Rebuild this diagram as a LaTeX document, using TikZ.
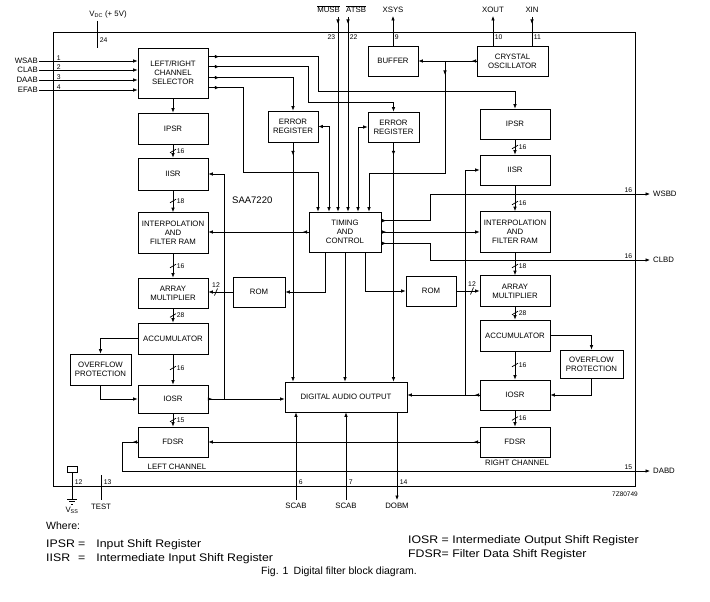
\documentclass[tikz,border=0pt]{standalone}
\usepackage{fontspec}
\setmainfont{Liberation Sans}
\newfontfamily\legfont[FakeStretch=1.12]{Liberation Sans}
\usetikzlibrary{arrows.meta,decorations.markings}
\newcommand\busv[3]{\draw[ln] (#1-3,#2+1.8) -- (#1+3,#2-1.8); \node[pn,anchor=west] at (#1+3,#2) {#3};}
\newcommand\bush[3]{\draw[ln] (#1-1.5,#2+3.5) -- (#1+1.5,#2-3.5); \node[pn,anchor=south] at (#1,#2-3.5) {#3};}
\begin{document}
\begin{tikzpicture}[x=1pt,y=-1pt,
  ln/.style={line width=0.7pt},
  >={Latex[length=4.5pt,width=3.6pt]},
  arr/.style={ln,->},
  ma/.style={postaction={decorate,decoration={markings,mark=at position #1 with {\arrow{>}}}}},
  blk/.style={draw,ln,align=center,inner sep=1pt,font=\fontsize{7.8}{8.8}\selectfont},
  pn/.style={inner sep=0.6pt,font=\fontsize{6.8}{7.5}\selectfont},
  lab/.style={inner sep=1pt,font=\fontsize{7.8}{9}\selectfont},
  leg/.style={inner sep=0pt,anchor=west,font=\legfont\fontsize{11}{12}\selectfont}]
\useasboundingbox (0,0) rectangle (710,602);

% chip outline
\draw[ln] (53,32) rectangle (635,486);

% ---------- blocks ----------
\node[blk,minimum width=70pt,minimum height=50pt] (sel) at (173,73) {LEFT/RIGHT\\CHANNEL\\SELECTOR};
\node[blk,minimum width=70pt,minimum height=31pt] (ipsrL) at (173,128.5) {IPSR};
\node[blk,minimum width=70pt,minimum height=32pt] (iisrL) at (173,174) {IISR};
\node[blk,minimum width=70pt,minimum height=41pt] (intL) at (173,233) {INTERPOLATION\\AND\\FILTER RAM};
\node[blk,minimum width=70pt,minimum height=30pt] (amL) at (173,293) {ARRAY\\MULTIPLIER};
\node[blk,minimum width=70pt,minimum height=31pt] (accL) at (173,338.5) {ACCUMULATOR};
\node[blk,minimum width=61pt,minimum height=31pt] (ovfL) at (100.5,369.5) {OVERFLOW\\PROTECTION};
\node[blk,minimum width=70pt,minimum height=28pt] (iosrL) at (173,399) {IOSR};
\node[blk,minimum width=70pt,minimum height=30pt] (fdsrL) at (173,442) {FDSR};

\node[blk,minimum width=70pt,minimum height=30pt] (ipsrR) at (515,124) {IPSR};
\node[blk,minimum width=70pt,minimum height=30pt] (iisrR) at (515,170) {IISR};
\node[blk,minimum width=70pt,minimum height=41pt] (intR) at (515,232) {INTERPOLATION\\AND\\FILTER RAM};
\node[blk,minimum width=70pt,minimum height=31pt] (amR) at (515,291) {ARRAY\\MULTIPLIER};
\node[blk,minimum width=70pt,minimum height=31pt] (accR) at (515,335.5) {ACCUMULATOR};
\node[blk,minimum width=63pt,minimum height=28pt] (ovfR) at (591.5,364) {OVERFLOW\\PROTECTION};
\node[blk,minimum width=70pt,minimum height=30pt] (iosrR) at (515,395) {IOSR};
\node[blk,minimum width=70pt,minimum height=30pt] (fdsrR) at (515,442) {FDSR};

\node[blk,minimum width=50pt,minimum height=31pt] (errL) at (293,126.5) {ERROR\\REGISTER};
\node[blk,minimum width=51pt,minimum height=30pt] (errR) at (393.5,127) {ERROR\\REGISTER};
\node[blk,minimum width=50pt,minimum height=30pt] (buf) at (393,61) {BUFFER};
\node[blk,minimum width=71pt,minimum height=30pt] (xtal) at (512.5,61) {CRYSTAL\\OSCILLATOR};
\node[blk,minimum width=72pt,minimum height=40pt] (tim) at (345,232) {TIMING\\AND\\CONTROL};
\node[blk,minimum width=52pt,minimum height=30pt] (romL) at (259,292) {ROM};
\node[blk,minimum width=50pt,minimum height=30pt] (romR) at (431,291) {ROM};
\node[blk,minimum width=122pt,minimum height=30pt] (dao) at (346,397) {DIGITAL AUDIO OUTPUT};

% ---------- terminals ----------
\coordinate (wsab) at (39,61);
\coordinate (clab) at (39,70);
\coordinate (daab) at (39,80);
\coordinate (efab) at (39,90);
\coordinate (vdc) at (97,21);
\coordinate (vdcb) at (97,48);
\coordinate (musb) at (338,17);
\coordinate (atsb) at (348,17);
\coordinate (xsys) at (393,16);
\coordinate (xout) at (493,16);
\coordinate (xin) at (532,17);
\coordinate (wsbd) at (650,194);
\coordinate (clbd) at (650,260);
\coordinate (dabd) at (650,471);
\coordinate (scab1) at (296,500);
\coordinate (scab2) at (346,500);
\coordinate (dobm) at (397,500);
\coordinate (cj) at (445,61);
\coordinate (jL) at (224,399);
\coordinate (jR) at (465,395);

\node[lab,anchor=east] (twsab) at (wsab) {WSAB};
\node[lab,anchor=east] (tclab) at (clab) {CLAB};
\node[lab,anchor=east] (tdaab) at (daab) {DAAB};
\node[lab,anchor=east] (tefab) at (efab) {EFAB};
\node[pn,anchor=south west] (p1) at (56,61) {1};
\node[pn,anchor=south west] (p2) at (56,70) {2};
\node[pn,anchor=south west] (p3) at (56,80) {3};
\node[pn,anchor=south west] (p4) at (56,90) {4};
\draw[arr] (wsab) -- (wsab -| sel.west);
\draw[arr] (clab) -- (clab -| sel.west);
\draw[arr] (daab) -- (daab -| sel.west);
\draw[arr] (efab) -- (efab -| sel.west);

\node[lab,anchor=south] (tvdc) at (108,19) {V\textsubscript{DC} (+ 5V)};
\draw[ln] (vdc) -- (vdcb);
\node[pn,anchor=west] (p24) at (99,40) {24};

\node[lab,anchor=south east] (tmusb) at (341,14) {$\overline{\hbox{MUSB}}$};
\node[lab,anchor=south west] (tatsb) at (345,14) {$\overline{\hbox{ATSB}}$};
\node[lab,anchor=south] (txsys) at (393,14) {XSYS};
\node[lab,anchor=south] (txout) at (493,14) {XOUT};
\node[lab,anchor=south] (txin) at (532,14) {XIN};
\node[pn,anchor=east] (p23) at (336,37) {23};
\node[pn,anchor=west] (p22) at (349,37) {22};
\node[pn,anchor=west] (p9) at (394,37) {9};
\node[pn,anchor=west] (p10) at (494,37) {10};
\node[pn,anchor=west] (p11) at (533,37) {11};

\node[lab,anchor=west] (twsbd) at (652,194) {WSBD};
\node[lab,anchor=west] (tclbd) at (652,260) {CLBD};
\node[lab,anchor=west] (tdabd) at (652,471) {DABD};
\node[pn,anchor=south east] (p16a) at (633,193) {16};
\node[pn,anchor=south east] (p16b) at (633,259) {16};
\node[pn,anchor=south east] (p15) at (633,470) {15};

% ---------- top connections ----------
\draw[arr] (buf.north) -- (xsys);
\draw[arr] ([xshift=-19.5pt]xtal.north) -- (xout);
\draw[ln,ma=7pt] (xin) -- ([xshift=19.5pt]xtal.north);
\draw[arr,ma=5pt] (xtal.west) -- (buf.east);
\draw[arr,ma=14pt] (cj) -- (445,173) -| ([xshift=24pt]tim.north);
\draw[arr,ma=7pt] (musb) -- ([xshift=-7pt]tim.north);
\draw[arr,ma=7pt] (atsb) -- ([xshift=3pt]tim.north);

% selector outputs
\draw[arr,ma=11pt] ([yshift=-9pt]sel.north east) -| (318,91) -| (ipsrR.north);
\draw[arr,ma=11pt] ([yshift=-19pt]sel.north east) -| (308,102) -| (errR.north);
\draw[arr,ma=11pt] ([yshift=-30pt]sel.north east) -| (errL.north);
\draw[arr,ma=11pt] ([yshift=-40pt]sel.north east) -| (243,172) -| ([xshift=-27pt]tim.north);

% error registers
\draw[ln,<->] (errL.east) -| ([xshift=-16pt]tim.north);
\draw[ln,<->] (errR.west) -| ([xshift=13pt]tim.north);
\draw[arr,ma=13pt] (errL.south) -- (errL.south |- dao.north);
\draw[arr,ma=13pt] (errR.south) -- (errR.south |- dao.north);

% timing and control
\draw[arr,ma=6pt] (tim.west) -- (intL.east |- tim.west);
\draw[arr,ma=5pt] ([yshift=-9pt]tim.north east) -| (430,194) -- (wsbd);
\draw[arr,ma=5pt] (tim.east) -- (intR.west |- tim.east);
\draw[arr,ma=5pt] ([yshift=9pt]tim.south east) -| (430,260) -- (clbd);
\draw[arr] ([xshift=-20pt]tim.south) |- (romL.east);
\draw[arr] (tim.south) -- (tim.south |- dao.north);
\draw[arr] ([xshift=20pt]tim.south) |- (romR.west);
\draw[arr] (romL.west) -- (amL.east |- romL.west);
\draw[arr] (romR.east) -- (amR.west |- romR.east);
\bush{216}{292}{12}
\bush{472}{291}{12}

% left channel chain
\draw[arr] (sel.south) -- (ipsrL.north);
\draw[arr] (ipsrL.south) -- (iisrL.north); \busv{173}{151}{16}
\draw[arr] (iisrL.south) -- (intL.north); \busv{173}{201}{18}
\draw[arr] (intL.south) -- (amL.north); \busv{173}{266}{16}
\draw[arr] (amL.south) -- (accL.north); \busv{173}{315.5}{28}
\draw[arr] (accL.south) -- (iosrL.north); \busv{173}{368}{16}
\draw[arr] (iosrL.south) -- (fdsrL.north); \busv{173}{420}{15}
\draw[arr] (accL.west) -| (ovfL.north);
\draw[arr] (ovfL.south) |- (iosrL.west);

% right channel chain
\draw[arr] (ipsrR.south) -- (iisrR.north); \busv{515}{147}{16}
\draw[arr] (iisrR.south) -- (intR.north); \busv{515}{203}{16}
\draw[arr] (intR.south) -- (amR.north); \busv{515}{266}{18}
\draw[arr] (amR.south) -- (accR.north); \busv{515}{313}{28}
\draw[arr] (accR.south) -- (iosrR.north); \busv{515}{365}{16}
\draw[arr] (iosrR.south) -- (fdsrR.north); \busv{515}{418.5}{16}
\draw[arr] (accR.east) -| (ovfR.north);
\draw[arr] (ovfR.south) |- (iosrR.east);

% feedback and outputs
\draw[arr,ma=4pt] (iosrL.east) -- (dao.west |- iosrL.east);
\draw[arr] (jL) |- (iisrL.east);
\draw[arr,ma=5pt] (iosrR.west) -- (dao.east |- iosrR.west);
\draw[arr] (jR) |- (iisrR.west);
\draw[arr,ma=6pt] (fdsrR.west) -- (fdsrL.east);
\draw[arr,ma=5pt] (fdsrL.west) -| (122,471) -- (dabd);

% DAO pins
\draw[arr] (scab1) -- (scab1 |- dao.south);
\draw[arr] (scab2) -- (scab2 |- dao.south);
\draw[arr] (dobm |- dao.south) -- (dobm);
\node[lab,anchor=north] (tscab1) at (296,502) {SCAB};
\node[lab,anchor=north] (tscab2) at (346,502) {SCAB};
\node[lab,anchor=north] (tdobm) at (397,502) {DOBM};
\node[pn,anchor=south west] (p6) at (298,485) {6};
\node[pn,anchor=south west] (p7) at (348,485) {7};
\node[pn,anchor=south west] (p14) at (399,485) {14};

% VSS and TEST
\draw[ln] (67,466) rectangle (77,472);
\draw[ln] (72,472) -- (72,499);
\draw[ln] (67,499) -- (77,499) (69,501.5) -- (75,501.5) (71,504) -- (73,504);
\node[lab,anchor=north] (tvss) at (72,506) {V\textsubscript{SS}};
\node[pn,anchor=south west] (p12) at (74,485) {12};
\draw[ln] (101,475) -- (101,500);
\node[lab,anchor=north] (ttest) at (101,503) {TEST};
\node[pn,anchor=south west] (p13) at (103,485) {13};

% captions inside
\node[anchor=west,inner sep=0pt,font=\fontsize{9.5}{10}\selectfont] (tsaa) at (232,200) {SAA7220};
\node[lab] (tlc) at (177,467) {LEFT CHANNEL};
\node[lab] (trc) at (517,463) {RIGHT CHANNEL};
\node[inner sep=0pt,font=\fontsize{6.5}{7}\selectfont] (tcode) at (625,494) {7Z80749};

% legend
\node[inner sep=0pt,anchor=west,font=\fontsize{10.5}{12}\selectfont] (lw) at (46,526) {Where:};
\node[leg] (l1) at (46,545) {\makebox[32pt][l]{IPSR}=\quad Input Shift Register};
\node[leg] (l2) at (46,559) {\makebox[32pt][l]{IISR}=\quad Intermediate Input Shift Register};
\node[leg] (l3) at (408,541) {IOSR = Intermediate Output Shift Register};
\node[leg] (l4) at (408,555) {FDSR= Filter Data Shift Register};
\node[inner sep=0pt,font=\fontsize{10.5}{12}\selectfont] (cap) at (339,572) {Fig. 1\enspace Digital filter block diagram.};
\end{tikzpicture}
\end{document}
